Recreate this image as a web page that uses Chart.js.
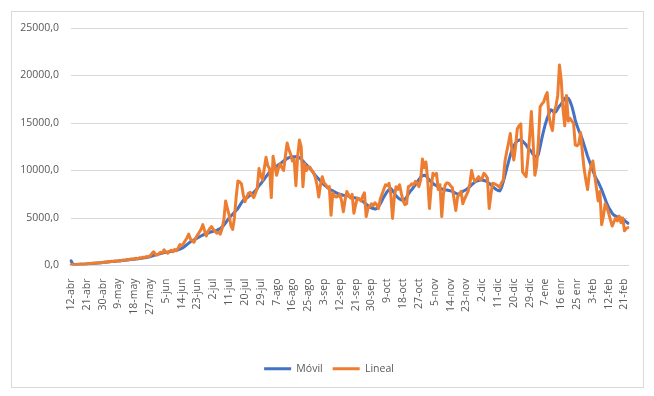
<!DOCTYPE html>
<html>
<head>
<meta charset="utf-8">
<script src="https://cdn.jsdelivr.net/npm/chart.js@4.4.1/dist/chart.umd.min.js"></script>
<style>
html, body { margin: 0; padding: 0; background: #fff; }
#caja { position: relative; width: 654px; height: 396px; }
#marco { position: absolute; left: 11px; top: 11px; width: 631px; height: 375px; border: 1px solid #d9d9d9; pointer-events: none; }
</style>
</head>
<body>
<div id="caja">
	<canvas id="grafico" width="654" height="396"></canvas>
	<div id="marco"></div>
</div>
<script>
// Etiquetas visibles del eje X (una cada 9 días)
const etiquetas = [
	'12-abr', '21-abr', '30-abr', '9-may', '18-may', '27-may', '5-jun', '14-jun', '23-jun',
	'2-jul', '11-jul', '20-jul', '29-jul', '7-ago', '16-ago', '25-ago', '3-sep', '12-sep',
	'21-sep', '30-sep', '9-oct', '18-oct', '27-oct', '5-nov', '14-nov', '23-nov', '2-dic',
	'11-dic', '20-dic', '29-dic', '7-ene', '16 enr', '25 enr', '3-feb', '12-feb', '21-feb',
]

// Valores diarios (12-abr a 23-feb)
const lineal = [
	60, 120, 80, 100, 140, 110, 150, 130, 170,
	190, 220, 200, 250, 230, 270, 260, 300, 290,
	320, 370, 340, 410, 390, 440, 420, 480, 460,
	510, 470, 550, 590, 570, 630, 610, 690, 670,
	720, 760, 700, 820, 780, 880, 850, 950, 920,
	1000, 1250, 1450, 1200, 1100, 1250, 1400, 1300, 1650,
	1400, 1300, 1500, 1600, 1450, 1700, 1550, 1850, 2200,
	2100, 2300, 2600, 2900, 3300, 2800, 2600, 2450, 2900,
	3200, 3500, 3800, 4300, 3700, 3100, 3600, 3900, 4100,
	3800, 3600, 3400, 3500, 3300, 3900, 4800, 6800, 6000,
	5300, 4200, 3800, 5000, 7200, 8900, 8800, 8600, 7500,
	6700, 7200, 7600, 7700, 7400, 7150, 7600, 8150, 10200,
	9500, 9000, 10200, 11400, 10500, 10200, 7150, 11500, 10500,
	9500, 10200, 10700, 10300, 10000, 11500, 12900, 12200, 11700,
	11000, 11200, 8400, 11500, 13200, 12500, 8300, 10700, 10000,
	10400, 10350, 10000, 9800, 9300, 8500, 7200, 8500, 9350,
	8700, 8500, 8200, 8300, 5300, 7650, 7300, 7200, 7300,
	7500, 6800, 5650, 6900, 7800, 7400, 7100, 7500, 5500,
	6400, 7100, 7000, 6800, 7300, 7650, 5150, 6000, 6200,
	6500, 6300, 6600, 6400, 6000, 7000, 7500, 8000, 8500,
	8400, 8650, 7500, 4950, 7200, 8300, 8000, 8500, 7600,
	6800, 6400, 6500, 8300, 8400, 8600, 8500, 8850, 8700,
	8300, 9000, 11200, 10300, 10900, 9000, 6000, 8200, 9700,
	9500, 9700, 8000, 8500, 5150, 7600, 8500, 8700, 8650,
	8400, 8200, 7000, 5800, 7200, 7500, 7800, 6500, 7000,
	7400, 7800, 8600, 10000, 9200, 8850, 9100, 9350, 9000,
	9200, 9700, 9500, 9200, 6000, 7500, 8650, 8600, 8500,
	8400, 8200, 8700, 9000, 11000, 12000, 12900, 13900, 12000,
	11100, 12500, 14400, 14700, 14900, 9850, 9600, 9350, 11200,
	13500, 16200, 13000, 9500, 10500, 13000, 16700, 17000, 17200,
	17800, 18200, 15800, 14800, 14200, 16200, 16800, 17900, 21100,
	19500, 16500, 14700, 17900, 15200, 15500, 15200, 15000, 12700,
	12600, 12800, 14000, 12000, 10200, 9000, 8000, 9700, 10500,
	11000, 9600, 8200, 6800, 7800, 4300, 5200, 6500, 6100,
	5500, 4800, 4150, 4600, 5000, 4700, 5200, 4500, 5000,
	3650, 3900, 4000,
]

const movil = [
	500, 150, 100, 110, 110, 120, 125, 130, 140,
	160, 180, 200, 215, 230, 245, 260, 275, 290,
	305, 330, 350, 370, 390, 410, 430, 445, 460,
	480, 500, 520, 540, 560, 585, 605, 630, 650,
	670, 690, 710, 740, 760, 790, 820, 850, 880,
	920, 980, 1050, 1100, 1150, 1200, 1250, 1300, 1350,
	1400, 1420, 1450, 1480, 1520, 1560, 1600, 1660, 1720,
	1800, 1900, 2050, 2200, 2350, 2500, 2600, 2700, 2800,
	2900, 3000, 3100, 3200, 3300, 3350, 3400, 3500, 3550,
	3600, 3650, 3700, 3800, 3900, 4050, 4250, 4500, 4750,
	5000, 5200, 5400, 5600, 5800, 6000, 6300, 6600, 6850,
	7000, 7100, 7250, 7400, 7550, 7700, 7900, 8100, 8400,
	8600, 8850, 9100, 9350, 9600, 9850, 10000, 10150, 10300,
	10450, 10600, 10700, 10850, 11000, 11150, 11250, 11350, 11400,
	11450, 11450, 11450, 11400, 11350, 11200, 11000, 10800, 10600,
	10400, 10200, 10000, 9750, 9500, 9300, 9100, 8900, 8700,
	8500, 8350, 8200, 8050, 7950, 7850, 7750, 7650, 7550,
	7500, 7450, 7400, 7380, 7350, 7300, 7250, 7200, 7150,
	7100, 7050, 7000, 6900, 6750, 6600, 6450, 6300, 6150,
	6050, 6000, 5950, 6000, 6200, 6500, 6850, 7200, 7500,
	7800, 8000, 8100, 7900, 7600, 7350, 7150, 7000, 6900,
	6850, 6950, 7200, 7500, 7800, 8000, 8250, 8500, 8800,
	9050, 9300, 9450, 9500, 9450, 9200, 9000, 8800, 8650,
	8500, 8400, 8250, 8150, 8050, 8000, 7950, 7950, 7900,
	7850, 7800, 7700, 7600, 7500, 7550, 7650, 7800, 7900,
	8000, 8150, 8300, 8500, 8650, 8800, 8900, 8950, 9000,
	9000, 8950, 8900, 8800, 8650, 8500, 8300, 8150, 8000,
	7900, 7850, 8200, 8800, 9500, 10200, 10900, 11600, 12200,
	12600, 12900, 13100, 13200, 13200, 13100, 12900, 12700, 12400,
	12200, 12000, 11700, 11500, 11400, 11700, 12500, 13400, 14200,
	14900, 15500, 16000, 16400, 16300, 16100, 16200, 16500, 16800,
	17000, 17300, 17600, 17700, 17600, 17300, 16800, 16100, 15300,
	14700, 14200, 13800, 13300, 12700, 12100, 11500, 11000, 10500,
	10000, 9500, 9100, 8800, 8400, 8000, 7500, 7000, 6500,
	6100, 5800, 5500, 5300, 5200, 5100, 5050, 5000, 4900,
	4750, 4600, 4450,
]

const dias = lineal.map((_, i) => i)

const fuente = { family: 'Open Sans', size: 10.5 }
const gris = '#595959'

// Centrar la leyenda respecto al marco exterior
const moverLeyenda = {
	id: 'moverLeyenda',
	afterLayout(chart) {
		chart.legend.left += 15
		chart.legend.right += 15
	},
}

const ctx = document.getElementById('grafico').getContext('2d')
const grafico = new Chart(ctx, {
	type: 'line',
	data: {
		labels: dias,
		datasets: [
			{
				label: 'Lineal',
				data: lineal,
				borderColor: '#ed7d31',
				backgroundColor: '#ed7d31',
				borderWidth: 3,
				pointRadius: 0,
				tension: 0,
				borderJoinStyle: 'round',
				borderCapStyle: 'round',
			},
			{
				label: 'Móvil',
				data: movil,
				borderColor: '#4472c4',
				backgroundColor: '#4472c4',
				borderWidth: 3,
				pointRadius: 0,
				tension: 0,
				borderJoinStyle: 'round',
				borderCapStyle: 'round',
			},
		],
	},
	options: {
		responsive: false,
		animation: false,
		layout: { padding: { top: 28, left: 0, right: 26, bottom: 12 } },
		plugins: {
			tooltip: { enabled: false },
			legend: {
				position: 'bottom',
				labels: {
					usePointStyle: true,
					pointStyle: 'line',
					pointStyleWidth: 27,
					color: gris,
					font: fuente,
					padding: 10,
					sort: (a, b) => b.datasetIndex - a.datasetIndex,
				},
			},
		},
		scales: {
			x: {
				grid: { display: false },
				border: { display: true, color: '#d9d9d9' },
				ticks: {
					autoSkip: false,
					minRotation: 90,
					maxRotation: 90,
					padding: 5,
					color: gris,
					font: fuente,
					callback: (v, i) => (i % 9 === 0 ? etiquetas[i / 9] : ''),
				},
				afterFit: (s) => { s.height = 88 },
			},
			y: {
				min: 0,
				max: 25000,
				grid: { color: '#d9d9d9', drawTicks: false },
				border: { display: false },
				ticks: {
					stepSize: 5000,
					padding: 12,
					color: gris,
					font: fuente,
					callback: (v) => v.toFixed(1).replace('.', ','),
				},
				afterFit: (s) => { s.width = 71 },
			},
		},
	},
	plugins: [moverLeyenda],
})
</script>
</body>
</html>
